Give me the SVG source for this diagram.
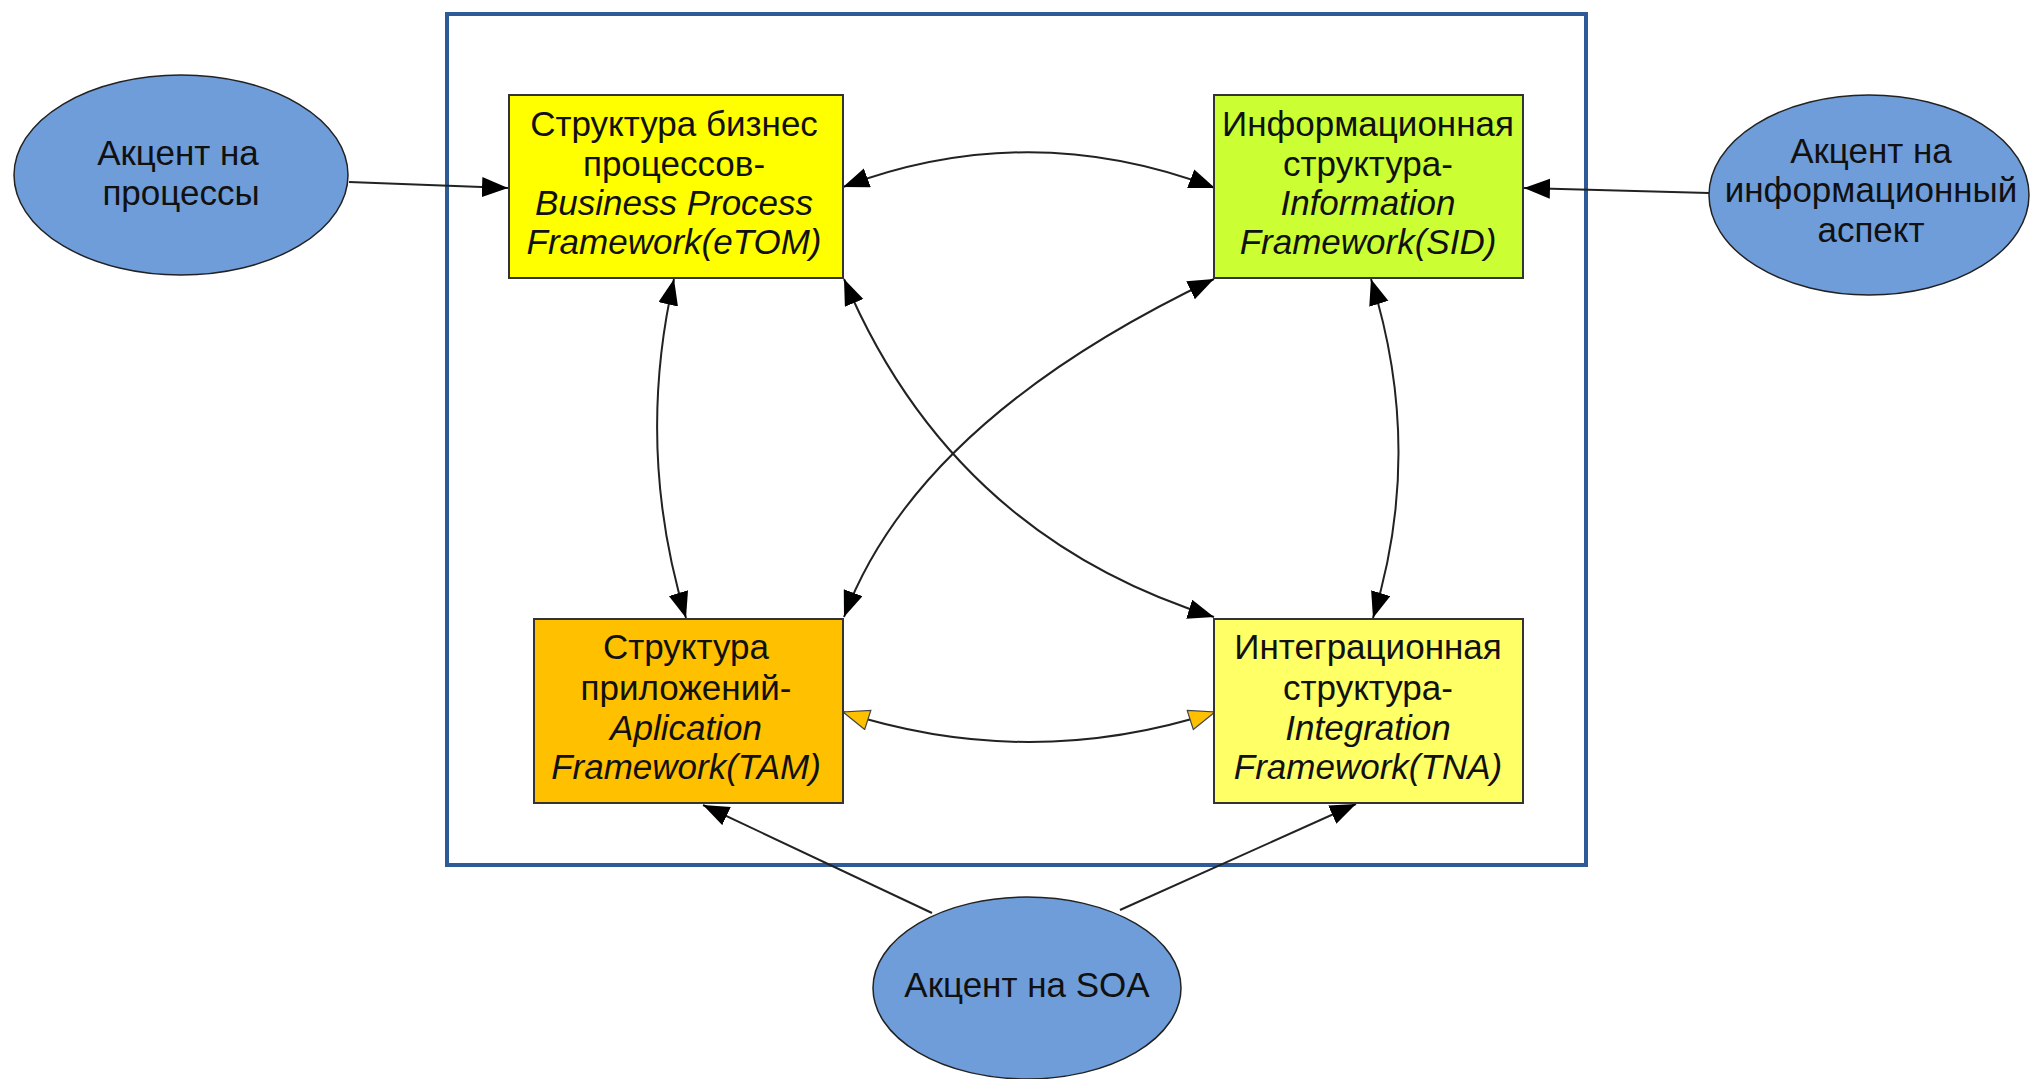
<svg xmlns="http://www.w3.org/2000/svg" width="2031" height="1079" viewBox="0 0 2031 1079">
<style>
  .box { stroke: #333; stroke-width: 2; }
  .ell { fill: #6F9DD9; stroke: #222; stroke-width: 1.5; }
  .t { font-family: "Liberation Sans", Arial, sans-serif; font-size: 35px; fill: #111; text-anchor: middle; }
  .i { font-style: italic; }
  .c { fill: none; stroke: #222; stroke-width: 2; }
  .frame { fill: none; stroke: #2E5A97; stroke-width: 4; }
</style>
<defs>
  <marker id="ab" markerUnits="userSpaceOnUse" markerWidth="28" markerHeight="22" refX="26" refY="10" orient="auto-start-reverse">
    <path d="M0,0 L26,10 L0,20 z" fill="#000"/>
  </marker>
  <marker id="ao" markerUnits="userSpaceOnUse" markerWidth="30" markerHeight="26" refX="27" refY="11" orient="auto-start-reverse">
    <path d="M1,1 L27,11 L1,21 z" fill="#FFC000" stroke="#444" stroke-width="1.2"/>
  </marker>
</defs>
<rect width="2031" height="1079" fill="#fff"/>
<rect class="frame" x="447" y="14" width="1139" height="851"/>
<g id="connectors">
  <path class="c" d="M349,182 L508,188" marker-end="url(#ab)"/>
  <path class="c" d="M1709,193 L1524,188" marker-end="url(#ab)"/>
  <path class="c" d="M932,913 L703,805" marker-end="url(#ab)"/>
  <path class="c" d="M1120,910 L1356,804" marker-end="url(#ab)"/>
  <path class="c" d="M843,187 Q1029,117 1215,188" marker-start="url(#ab)" marker-end="url(#ab)"/>
  <path class="c" d="M843,712 Q1029,772 1215,712" marker-start="url(#ao)" marker-end="url(#ao)"/>
  <path class="c" d="M674,279 Q635,450 686,618" marker-start="url(#ab)" marker-end="url(#ab)"/>
  <path class="c" d="M1371,279 Q1425,450 1373,618" marker-start="url(#ab)" marker-end="url(#ab)"/>
  <path class="c" d="M844,279 Q952,535 1214,617" marker-start="url(#ab)" marker-end="url(#ab)"/>
  <path class="c" d="M1214,279 Q918,420 844,617" marker-start="url(#ab)" marker-end="url(#ab)"/>
</g>
<g id="etom">
  <rect class="box" x="509" y="95" width="334" height="183" fill="#FFFF00"/>
  <text class="t" x="674" y="136">Структура бизнес</text>
  <text class="t" x="674" y="176">процессов-</text>
  <text class="t i" x="674" y="215">Business Process</text>
  <text class="t i" x="674" y="254">Framework(eTOM)</text>
</g>
<g id="sid">
  <rect class="box" x="1214" y="95" width="309" height="183" fill="#CCFF33"/>
  <text class="t" x="1368" y="136">Информационная</text>
  <text class="t" x="1368" y="176">структура-</text>
  <text class="t i" x="1368" y="215">Information</text>
  <text class="t i" x="1368" y="254">Framework(SID)</text>
</g>
<g id="tam">
  <rect class="box" x="534" y="619" width="309" height="184" fill="#FFC000"/>
  <text class="t" x="686" y="659">Структура</text>
  <text class="t" x="686" y="700">приложений-</text>
  <text class="t i" x="686" y="740">Aplication</text>
  <text class="t i" x="686" y="779">Framework(TAM)</text>
</g>
<g id="tna">
  <rect class="box" x="1214" y="619" width="309" height="184" fill="#FFFF66"/>
  <text class="t" x="1368" y="659">Интеграционная</text>
  <text class="t" x="1368" y="700">структура-</text>
  <text class="t i" x="1368" y="740">Integration</text>
  <text class="t i" x="1368" y="779">Framework(TNA)</text>
</g>
<g id="accent-processes">
  <ellipse class="ell" cx="181" cy="175" rx="167" ry="100"/>
  <text class="t" x="178" y="165">Акцент на</text>
  <text class="t" x="181" y="205">процессы</text>
</g>
<g id="accent-information">
  <ellipse class="ell" cx="1869" cy="195" rx="160" ry="100"/>
  <text class="t" x="1871" y="163">Акцент на</text>
  <text class="t" x="1871" y="202">информационный</text>
  <text class="t" x="1871" y="242">аспект</text>
</g>
<g id="accent-soa">
  <ellipse class="ell" cx="1027" cy="988" rx="154" ry="91"/>
  <text class="t" x="1027" y="997">Акцент на SOA</text>
</g>
</svg>
